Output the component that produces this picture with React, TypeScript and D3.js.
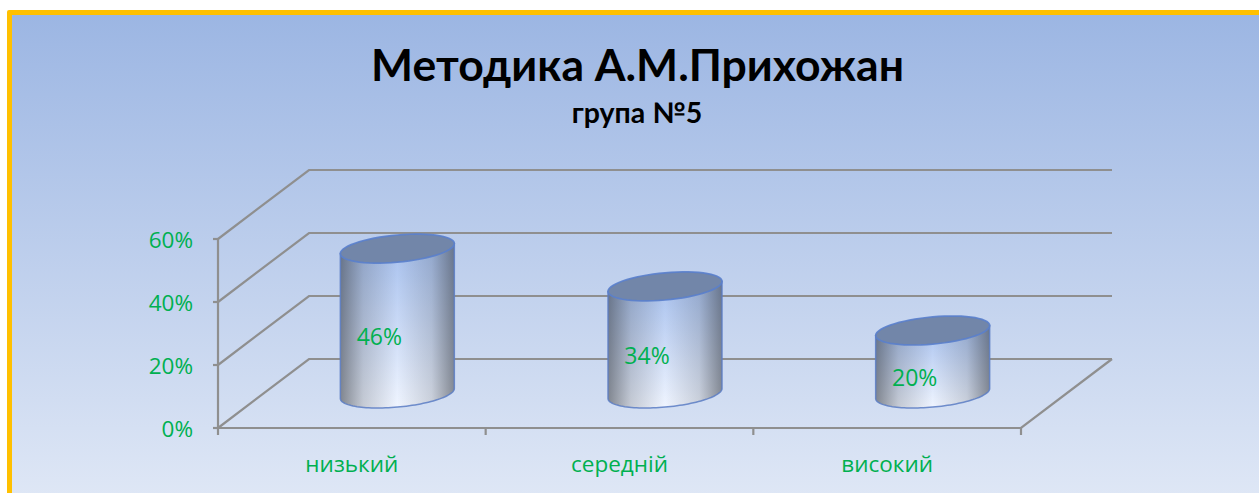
import React from "react";
import * as d3 from "d3";

const titleText = "Методика А.М.Прихожан";
const subtitleText = "група №5";
const categories = ["низький", "середній", "високий"];
const values = [46, 34, 20];
const valueLabels = ["46%", "34%", "20%"];
const ticks = [0, 20, 40, 60];

const W = 1259, H = 493;
const GREEN = "#00b050";
const GRID = "#8f8f8f";
const FONT = "Lato, 'Open Sans', 'Noto Sans', sans-serif";
const LABEL_FONT = "'Open Sans', 'Noto Sans', sans-serif";

const x = d3.scaleBand<string>().domain(categories).range([218, 1021]);
const y = d3.scaleLinear().domain([0, 60]).range([428, 239]);
const depth = { dx: 91, dy: -69 };
const barW = 114, rim = 13.6, skew = 5;

const line = d3.line().curve(d3.curveLinear);

function arc(cx: number, cy: number, from: number, to: number): [number, number][] {
  return d3.range(0, 61).map((i) => {
    const t = from + ((to - from) * i) / 60;
    return [cx + (barW / 2) * Math.cos(t), cy + rim * Math.sin(t) - skew * Math.cos(t)] as [number, number];
  });
}

export default function App() {
  const ticksX = [...categories.map((c) => x(c) as number), 1021];
  return (
    <svg width={W} height={H} style={{ position: "fixed", left: 0, top: 0, display: "block" }}>
      <defs>
        <linearGradient id="bg" x1="0" y1="0" x2="0" y2="1">
          <stop offset="0" stopColor="#9cb6e3" />
          <stop offset="1" stopColor="#e0e8f6" />
        </linearGradient>
        <linearGradient id="base" x1="0" y1="0" x2="0" y2="1">
          <stop offset="0" stopColor="#a6c0ee" />
          <stop offset="1" stopColor="#f0f5ff" />
        </linearGradient>
        <linearGradient id="shade" x1="0" y1="0" x2="1" y2="0">
          <stop offset="0" stopColor="#3f444c" stopOpacity="0.62" />
          <stop offset="0.2" stopColor="#3f444c" stopOpacity="0.24" />
          <stop offset="0.5" stopColor="#3f444c" stopOpacity="0" />
          <stop offset="0.8" stopColor="#3f444c" stopOpacity="0.2" />
          <stop offset="1" stopColor="#3f444c" stopOpacity="0.6" />
        </linearGradient>
      </defs>
      <rect x={0} y={0} width={W} height={H} fill="#fff" />
      <rect x={7} y={10} width={W} height={H} rx={2} fill="#ffc000" />
      <rect x={12} y={15} width={W} height={H} fill="url(#bg)" />

      <text x={637.5} y={81} textAnchor="middle" fontFamily={FONT} fontWeight={700} fontSize={44.5} fill="#000">{titleText}</text>
      <text x={637} y={123} textAnchor="middle" fontFamily={FONT} fontWeight={700} fontSize={28.5} fill="#000">{subtitleText}</text>

      <g stroke={GRID} strokeWidth={2.2} fill="none">
        {ticks.map((t) => (
          <g key={t}>
            <line x1={213} x2={218} y1={y(t)} y2={y(t)} />
            <path d={line([[218, y(t)], [218 + depth.dx, y(t) + depth.dy], [1021 + depth.dx, y(t) + depth.dy]]) as string} />
          </g>
        ))}
        <line x1={218} x2={218} y1={y(0) + 1} y2={y(60)} />
        <path d={line([[218, y(0)], [1021, y(0)], [1021 + depth.dx, y(0) + depth.dy]]) as string} />
        {ticksX.map((tx) => (
          <line key={tx} x1={tx} x2={tx} y1={y(0)} y2={y(0) + 7} />
        ))}
      </g>

      {categories.map((c, i) => {
        const cx = (x(c) as number) + x.bandwidth() / 2 + depth.dx / 2;
        const by = y(0) + depth.dy / 2;
        const ty = by - (y(0) - y(values[i]));
        const side = [...arc(cx, ty, Math.PI, Math.PI).slice(0, 1), ...arc(cx, by, Math.PI, 0), ...arc(cx, ty, 0, 0).slice(0, 1)];
        const sideD = (line(side) as string) + "Z";
        const topD = (line(arc(cx, ty, 0, Math.PI * 2)) as string) + "Z";
        return (
          <g key={c}>
            <path d={sideD} fill="url(#base)" />
            <path d={sideD} fill="url(#shade)" stroke="#5a7cc4" strokeOpacity={0.85} strokeWidth={1.5} />
            <path d={topD} fill="#7286a9" stroke="#5a80cc" strokeOpacity={0.9} strokeWidth={1.7} />
            <text x={cx - 18} y={(ty + by) / 2 + 15.5} dy="0.35em" textAnchor="middle" fontFamily={LABEL_FONT} fontSize={23} fill={GREEN}>{valueLabels[i]}</text>
          </g>
        );
      })}

      {ticks.map((t) => (
        <text key={t} x={193} y={y(t) + 1} dy="0.35em" textAnchor="end" fontFamily={LABEL_FONT} fontSize={22.5} fill={GREEN}>{t}%</text>
      ))}
      {categories.map((c) => (
        <text key={c} x={(x(c) as number) + x.bandwidth() / 2} y={464} dy="0.35em" textAnchor="middle" fontFamily={LABEL_FONT} fontSize={22.5} fill={GREEN}>{c}</text>
      ))}
    </svg>
  );
}
